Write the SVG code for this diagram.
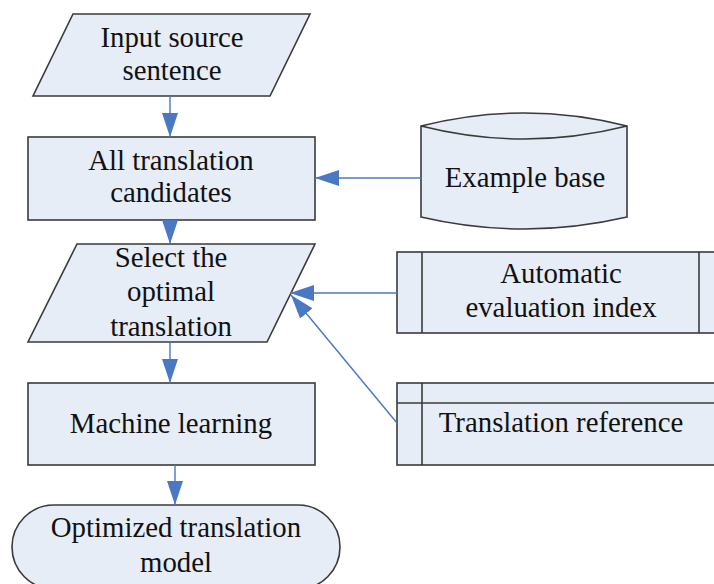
<svg xmlns="http://www.w3.org/2000/svg" width="714" height="584" viewBox="0 0 714 584">
<style>
.n{fill:#e7edf7;stroke:#3a3a3a;stroke-width:1.6}
.t{font-family:"Liberation Serif","Times New Roman",serif;font-size:28.8px;fill:#111;text-anchor:middle}
.c{stroke:#4a78c2;stroke-width:1.4;fill:none}
</style>
<defs>
<marker id="ah" markerUnits="userSpaceOnUse" markerWidth="24" markerHeight="16" refX="24" refY="8" orient="auto">
<path d="M0,0 L24,8 L0,16 z" fill="#4a78c2"/>
</marker>
</defs>
<rect width="714" height="584" fill="#fff"/>
<g id="input">
<path class="n" d="M73,14 L310,14 L270,96 L33,96 z"/>
<text class="t" x="172" y="47">Input source</text>
<text class="t" x="172" y="80">sentence</text>
</g>
<g id="candidates">
<rect class="n" x="28" y="137" width="287" height="83"/>
<text class="t" x="171" y="170">All translation</text>
<text class="t" x="171" y="202">candidates</text>
</g>
<g id="example">
<path class="n" d="M421,126 Q524,100 627,126 L627,217 Q524,241 421,217 z"/>
<path class="n" fill="none" d="M421,126 Q524,152 627,126"/>
<text class="t" x="525" y="187">Example base</text>
</g>
<g id="select">
<path class="n" d="M77,244 L315,244 L267,342 L28,342 z"/>
<text class="t" x="171" y="267">Select the</text>
<text class="t" x="171" y="301">optimal</text>
<text class="t" x="171" y="336">translation</text>
</g>
<g id="autoeval">
<rect class="n" x="397" y="252" width="330" height="81"/>
<line class="n" x1="422" y1="252" x2="422" y2="333"/>
<line class="n" x1="699" y1="252" x2="699" y2="333"/>
<text class="t" x="561" y="283">Automatic</text>
<text class="t" x="561" y="317">evaluation index</text>
</g>
<g id="reference">
<rect class="n" x="397" y="383" width="330" height="82"/>
<line class="n" x1="422" y1="383" x2="422" y2="465"/>
<line class="n" x1="397" y1="403" x2="727" y2="403"/>
<text class="t" x="561" y="432">Translation reference</text>
</g>
<g id="ml">
<rect class="n" x="28" y="383" width="287" height="82"/>
<text class="t" x="171" y="433">Machine learning</text>
</g>
<g id="model">
<rect class="n" x="12" y="505" width="328" height="84" rx="42" ry="42"/>
<text class="t" x="176" y="537">Optimized translation</text>
<text class="t" x="176" y="572">model</text>
</g>
<g id="connectors">
<line class="c" x1="170" y1="96" x2="170" y2="137" marker-end="url(#ah)"/>
<line class="c" x1="170" y1="220" x2="170" y2="244" marker-end="url(#ah)"/>
<line class="c" x1="421" y1="178" x2="315" y2="178" marker-end="url(#ah)"/>
<line class="c" x1="397" y1="293" x2="290" y2="293" marker-end="url(#ah)"/>
<line class="c" x1="397" y1="423" x2="291" y2="295" marker-end="url(#ah)"/>
<line class="c" x1="170" y1="342" x2="170" y2="383" marker-end="url(#ah)"/>
<line class="c" x1="175" y1="465" x2="175" y2="505" marker-end="url(#ah)"/>
</g>
</svg>
